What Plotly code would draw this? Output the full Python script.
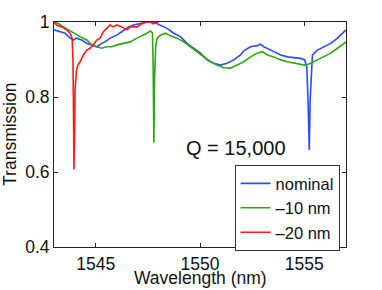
import plotly.graph_objects as go

# ---- data ----
wl_nominal = [1543.00, 1543.29, 1543.53, 1543.77, 1543.93, 1544.09, 1544.33, 1544.57, 1544.81, 1545.05,
              1545.29, 1545.45, 1545.69, 1546.01, 1546.25, 1546.57, 1546.81, 1547.13, 1547.46, 1547.76,
              1548.10, 1548.42, 1548.74, 1549.06, 1549.38, 1549.70, 1550.02, 1550.34, 1550.66, 1550.98,
              1551.30, 1551.62, 1551.94, 1552.10, 1552.42, 1552.75, 1552.90, 1553.06, 1553.23, 1553.54,
              1553.87, 1554.19, 1554.50, 1554.83, 1555.02, 1555.12, 1555.18, 1555.24, 1555.28, 1555.33,
              1555.39, 1555.63, 1555.95, 1556.27, 1556.59, 1557.00]
t_nominal = [0.979, 0.974, 0.970, 0.957, 0.952, 0.957, 0.952, 0.943, 0.939, 0.934,
             0.943, 0.947, 0.957, 0.965, 0.974, 0.987, 0.992, 0.996, 1.000, 1.000,
             0.992, 0.983, 0.970, 0.961, 0.943, 0.930, 0.917, 0.899, 0.890, 0.885,
             0.890, 0.899, 0.912, 0.923, 0.934, 0.937, 0.941, 0.934, 0.930, 0.921,
             0.912, 0.907, 0.905, 0.903, 0.899, 0.880, 0.790, 0.659, 0.790, 0.872,
             0.912, 0.925, 0.934, 0.943, 0.957, 0.979]

wl_m10 = [1543.00, 1543.21, 1543.45, 1543.69, 1543.93, 1544.25, 1544.57, 1544.81, 1545.05, 1545.29,
          1545.53, 1545.77, 1546.01, 1546.33, 1546.65, 1546.98, 1547.29, 1547.46, 1547.62, 1547.72,
          1547.75, 1547.79, 1547.82, 1547.88, 1547.95, 1548.10, 1548.34, 1548.58, 1548.90, 1549.22,
          1549.54, 1549.86, 1550.18, 1550.50, 1550.82, 1551.14, 1551.46, 1551.78, 1552.10, 1552.42,
          1552.75, 1552.99, 1553.23, 1553.54, 1553.87, 1554.19, 1554.50, 1554.83, 1555.07, 1555.31,
          1555.63, 1555.95, 1556.27, 1556.59, 1557.00]
t_m10 = [1.000, 0.996, 0.987, 0.979, 0.970, 0.961, 0.952, 0.939, 0.934, 0.930,
         0.934, 0.934, 0.939, 0.943, 0.947, 0.957, 0.965, 0.970, 0.976, 0.971,
         0.900, 0.678, 0.845, 0.939, 0.957, 0.965, 0.970, 0.963, 0.957, 0.947,
         0.934, 0.921, 0.907, 0.894, 0.885, 0.878, 0.877, 0.885, 0.894, 0.907,
         0.917, 0.921, 0.912, 0.907, 0.899, 0.894, 0.890, 0.887, 0.885, 0.890,
         0.899, 0.907, 0.917, 0.930, 0.947]

wl_m20 = [1543.00, 1543.13, 1543.37, 1543.61, 1543.77, 1543.87, 1543.91, 1543.94, 1543.96, 1543.99,
          1544.01, 1544.08, 1544.15, 1544.25, 1544.41, 1544.57, 1544.73, 1544.89, 1545.05, 1545.21,
          1545.37, 1545.53, 1545.69, 1545.85, 1546.01, 1546.25, 1546.50, 1546.65, 1546.98, 1547.22,
          1547.46, 1547.62, 1547.76, 1547.90, 1548.00]
t_m20 = [0.999, 0.992, 0.987, 0.979, 0.970, 0.957, 0.900, 0.740, 0.607, 0.710,
         0.820, 0.872, 0.885, 0.894, 0.912, 0.925, 0.930, 0.939, 0.952, 0.957,
         0.974, 0.983, 0.992, 0.987, 0.992, 0.987, 0.979, 0.987, 0.987, 0.996,
         1.000, 1.000, 0.995, 0.998, 1.000]

series_names = ["nominal", "–10 nm", "–20 nm"]
x_ticks = [1545, 1550, 1555]
y_ticks = [0.4, 0.6, 0.8, 1.0]
y_tick_labels = ["0.4", "0.6", "0.8", "1"]
x_title = "Wavelength (nm)"
y_title = "Transmission"
annotation_text = "Q = 15,000"

colors = ["#2a4bff", "#2ea614", "#ff1a1a"]
FONT = "Liberation Sans, Arial, Helvetica, sans-serif"

fig = go.Figure()
for wl, t, name, c in [(wl_nominal, t_nominal, series_names[0], colors[0]),
                       (wl_m10, t_m10, series_names[1], colors[1]),
                       (wl_m20, t_m20, series_names[2], colors[2])]:
    fig.add_trace(go.Scatter(x=wl, y=t, mode="lines", name=name,
                             line=dict(color=c, width=1.6)))

axis_common = dict(showline=True, linecolor="#222", linewidth=1, mirror="ticks",
                   ticks="inside", ticklen=4, tickcolor="#222", showgrid=False,
                   zeroline=False, automargin=False,
                   tickfont=dict(family=FONT, size=17.5, color="#111"))

fig.update_layout(
    width=382, height=290,
    margin=dict(l=54, r=36, t=22, b=43, autoexpand=False),
    paper_bgcolor="white", plot_bgcolor="white",
    font=dict(family=FONT, size=17.5, color="#111"),
    xaxis=dict(range=[1543, 1557], tickvals=x_ticks, ticklabelstandoff=1, **axis_common),
    yaxis=dict(range=[0.4, 1.0], tickvals=y_ticks, ticktext=y_tick_labels, **axis_common),
    legend=dict(x=0.978, y=0.364, xanchor="right", yanchor="top",
                bgcolor="white", bordercolor="#333", borderwidth=1,
                font=dict(family=FONT, size=16.5), tracegroupgap=0),
    showlegend=True,
    hovermode=False,
)

# axis titles as paper-positioned text
fig.add_annotation(x=0.5, y=-0.136, xref="paper", yref="paper", text=x_title,
                   showarrow=False, xanchor="center", yanchor="middle",
                   font=dict(family=FONT, size=17.5, color="#111"))
fig.add_annotation(x=-0.151, y=0.502, xref="paper", yref="paper", text=y_title,
                   showarrow=False, xanchor="center", yanchor="middle", textangle=-90,
                   font=dict(family=FONT, size=17.5, color="#111"))

fig.add_annotation(x=1551.73, y=0.663, xref="x", yref="y", text=annotation_text,
                   showarrow=False, font=dict(family=FONT, size=20, color="#111"))

# remove the default page margin so the figure sits at the window's top-left corner
fig.write_html("out.html", config={"displayModeBar": False},
               post_script="document.body.style.margin='0px';")
